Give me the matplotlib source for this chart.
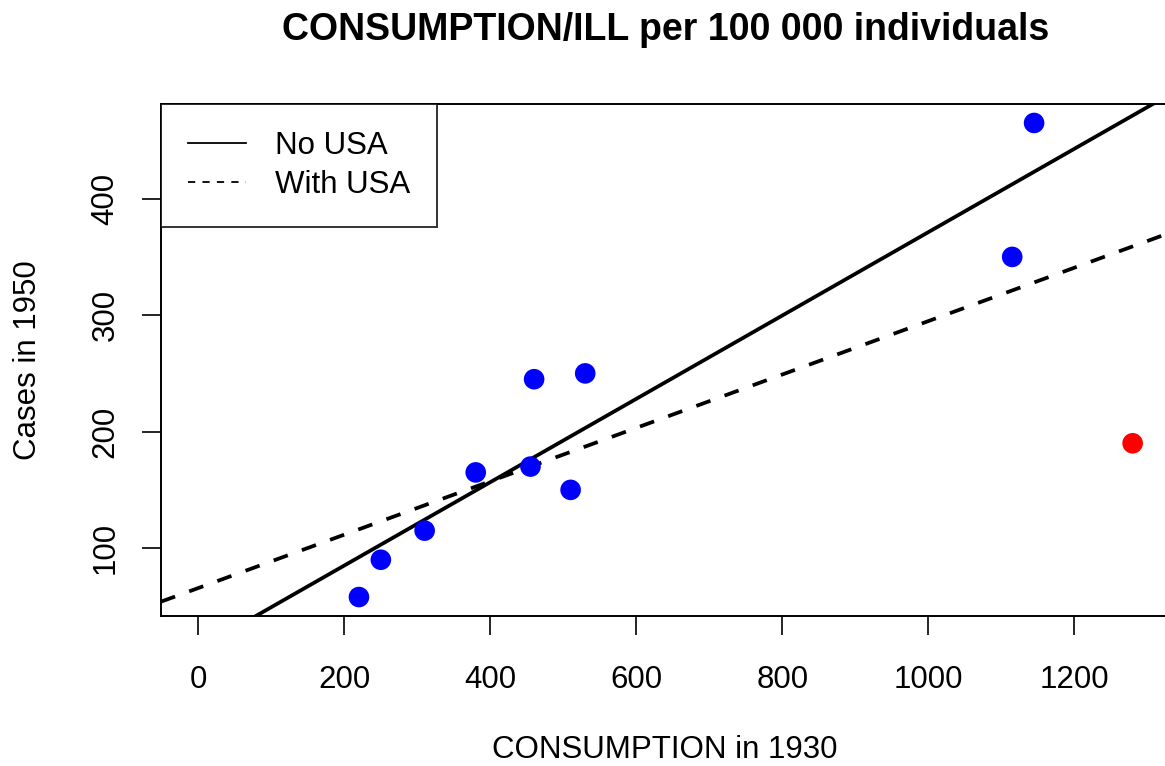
import matplotlib.pyplot as plt
import numpy as np

plt.rcParams['font.family'] = ['Liberation Sans', 'DejaVu Sans']

consumption = [220, 250, 310, 380, 455, 460, 510, 530, 1115, 1145, 1280]
cases = [58, 90, 115, 165, 170, 245, 150, 250, 350, 465, 190]
colors = ["blue"] * 10 + ["red"]

x = np.array(consumption)
y = np.array(cases)

# fits without and with the last point (USA)
b_no, a_no = np.polyfit(x[:-1], y[:-1], 1)
b_all, a_all = np.polyfit(x, y, 1)

W, H = 1165, 766
fig = plt.figure(figsize=(W / 100, H / 100), dpi=100)
ax = fig.add_axes([161 / W, 1 - 616 / H, (1170 - 161) / W, (616 - 104) / H])

yr = y.max() - y.min()
ax.set_xlim(0 - 0.04 * 1280, 1280 + 0.04 * 1280)
ax.set_ylim(y.min() - 0.04 * yr, y.max() + 0.04 * yr)

ax.scatter(x, y, c=colors, s=220, zorder=3, linewidths=0)

xx = np.array(ax.get_xlim())
ax.plot(xx, a_no + b_no * xx, color="black", lw=2.7, label="No USA")
ax.plot(xx, a_all + b_all * xx, color="black", lw=2.7, ls=(0, (4, 4)), label="With USA")
ax.set_xlim(xx)

ax.set_xticks([0, 200, 400, 600, 800, 1000, 1200])
ax.set_yticks([100, 200, 300, 400])
ax.tick_params(length=14, width=1.2, labelsize=22.5)
ax.tick_params(axis="x", pad=21)
ax.tick_params(axis="y", pad=15)
for lab in ax.get_yticklabels():
    lab.set_rotation(90)
    lab.set_va("center")
for s in ax.spines.values():
    s.set_linewidth(1.4)

fig.text(665 / W, 1 - 750 / H, "CONSUMPTION in 1930", fontsize=22.5, ha="center", va="center")
fig.text(28 / W, 1 - 360 / H, "Cases in 1950", fontsize=22.5, ha="center", va="center", rotation=90)
fig.text(666 / W, 1 - 30 / H, "CONSUMPTION/ILL per 100 000 individuals",
         fontsize=27, fontweight="bold", ha="center", va="center")

leg = ax.legend(loc="upper left", fontsize=22.5, frameon=True, fancybox=False,
                edgecolor="black", borderaxespad=0, handlelength=1.86, handletextpad=0.93,
                borderpad=0.85, labelspacing=0.3)
leg.get_frame().set_linewidth(1.4)
for h in leg.get_lines():
    h.set_linewidth(1.3)

fig.savefig("out.png", dpi=100)
